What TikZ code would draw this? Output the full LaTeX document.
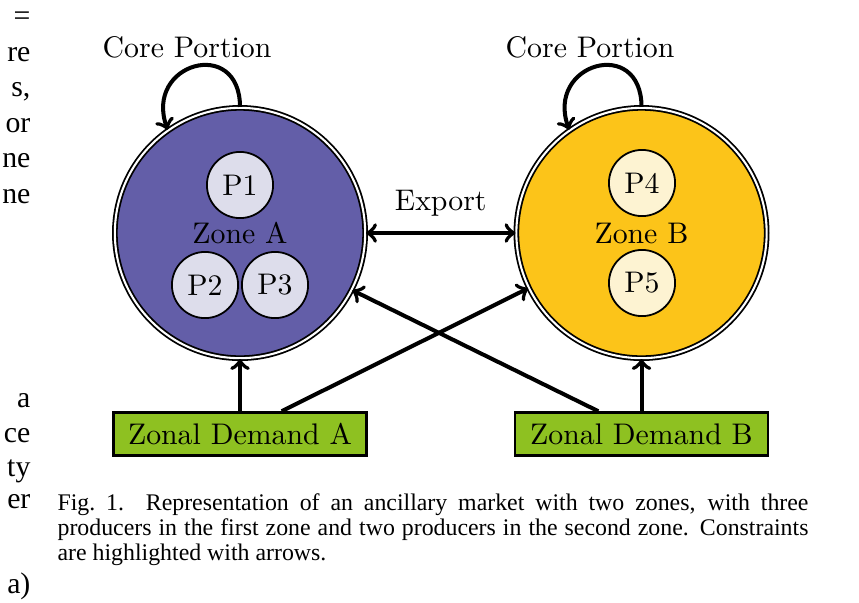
\documentclass[tikz,border=0pt]{standalone}
\usepackage{fontspec}
\usepackage{tikz}
\usepackage{xcolor}
\usetikzlibrary{positioning}
\newfontfamily\paperfont{Liberation Serif}
\definecolor{zoneAfill}{RGB}{99,94,168}
\definecolor{zoneBfill}{RGB}{252,196,25}
\definecolor{prodAfill}{RGB}{221,221,235}
\definecolor{prodBfill}{RGB}{253,243,210}
\definecolor{demandfill}{RGB}{142,193,33}
\tikzset{
    zone-circle/.style = {draw=black, circle, line width=0.6pt, double=white, double distance=0.7pt, minimum size=84pt, inner sep=0pt},
    producer-circle/.style = {draw=black, circle, line width=0.6pt, minimum size=22.2pt, inner sep=0pt},
    demand-box/.style = {draw=black, fill=demandfill, line width=0.8pt, rectangle, minimum width=85pt, minimum height=14.4pt, inner sep=0pt},
    constraint-arrow/.style = {->, line width=1.35pt},
    caption-text/.style = {font=\paperfont\fontsize{8}{8.4}\selectfont, text width=252pt, align=justify, inner sep=0pt, anchor=north west},
    column-text/.style = {font=\paperfont\fontsize{10}{12}\selectfont, inner sep=0pt, anchor=base east},
}

\begin{document}
\begin{tikzpicture}[x=0.3356pt, y=-0.3356pt]
\useasboundingbox (0,0) rectangle (859,602);
% the two zones
\node [zone-circle, fill=zoneAfill] (zone-a) at (240,233) {Zone A};
\node [zone-circle, fill=zoneBfill] (zone-b) at (641.5,233) {Zone B};
% producers
\node [producer-circle, fill=prodAfill] (p1) at (240,185) {P1};
\node [producer-circle, fill=prodAfill] (p2) at (205,285) {P2};
\node [producer-circle, fill=prodAfill] (p3) at (275,285) {P3};
\node [producer-circle, fill=prodBfill] (p4) at (642,183) {P4};
\node [producer-circle, fill=prodBfill] (p5) at (642,283) {P5};
% zonal demands
\node [demand-box, below=17.5pt] (demand-a) at (zone-a.south) {Zonal Demand A};
\node [demand-box, below=17.5pt] (demand-b) at (zone-b.south) {Zonal Demand B};
% core portions
\node (core-a) at (187,47) {Core Portion};
\node (core-b) at (590,47) {Core Portion};
\draw [constraint-arrow] (zone-a.north) to [out=90, in=110, looseness=2.4] (zone-a.125);
\draw [constraint-arrow] (zone-b.north) to [out=90, in=110, looseness=2.4] (zone-b.125);
% constraints
\draw [constraint-arrow, <->] (zone-a.east) -- node [above=1.5pt] (export) {Export} (zone-b.west);
\draw [constraint-arrow] (demand-a.north) -- (zone-a.south);
\draw [constraint-arrow] (demand-b.north) -- (zone-b.south);
\draw [constraint-arrow] ([xshift=14pt]demand-a.north) -- (zone-b.206);
\draw [constraint-arrow] ([xshift=-14.5pt]demand-b.north) -- (zone-a.333);
% caption
\node [caption-text] (caption) at (57,493) {Fig.~1.\ \ Representation of an ancillary market with two zones, with three\linebreak producers in the first zone and two producers in the second zone. Constraints\linebreak are highlighted with arrows.};
% neighbouring column
\node [column-text] (col-1) at (31,25) {=};
\node [column-text] (col-2) at (31,61) {re};
\node [column-text] (col-3) at (31,96) {s,};
\node [column-text] (col-4) at (31,132) {or};
\node [column-text] (col-5) at (31,167) {ne};
\node [column-text] (col-6) at (31,203) {ne};
\node [column-text] (col-7) at (31,407) {a};
\node [column-text] (col-8) at (31,442) {ce};
\node [column-text] (col-9) at (31,476) {ty};
\node [column-text] (col-10) at (31,508) {er};
\node [column-text] (col-11) at (31,593) {a)};
\end{tikzpicture}
\end{document}
